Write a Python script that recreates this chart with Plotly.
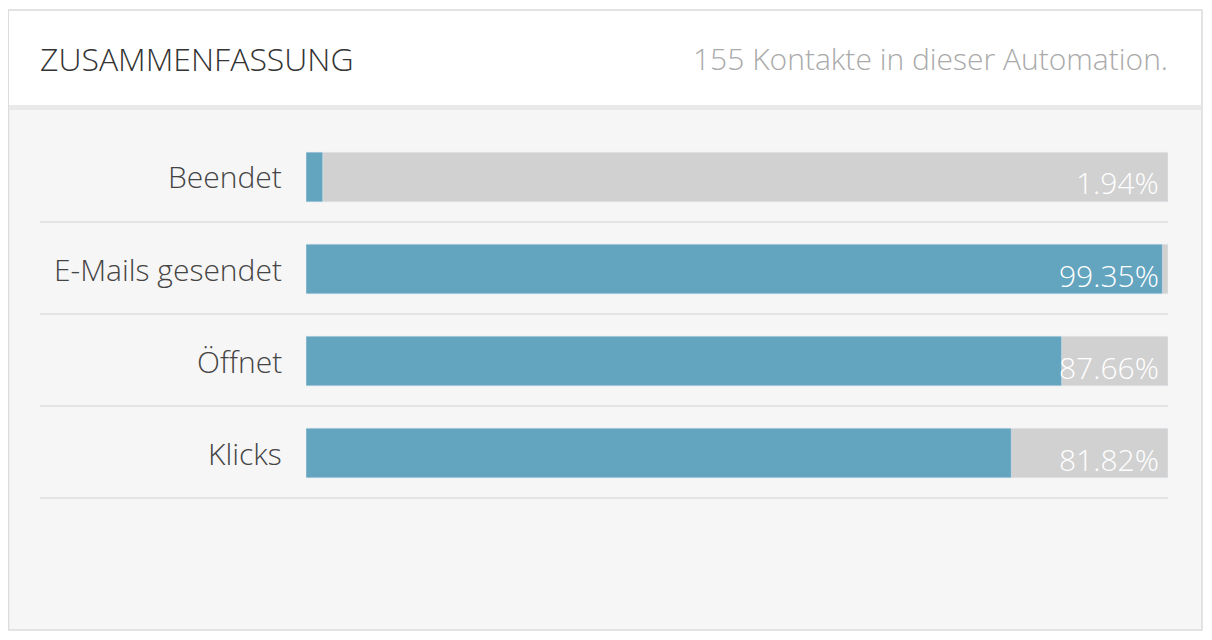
import plotly.graph_objects as go

categories = ["Beendet", "E-Mails gesendet", "Öffnet", "Klicks"]
values = [1.94, 99.35, 87.66, 81.82]
total = [100, 100, 100, 100]
title_left = "ZUSAMMENFASSUNG"
title_right = "155 Kontakte in dieser Automation."

W, H = 1212, 640
OFF = 8  # page body margin
def px(x): return (x - OFF) / W
def py(y): return 1 - (y - OFF) / H

fig = go.Figure()
fig.add_trace(go.Bar(y=categories, x=total, orientation="h", marker_color="#d1d1d1",
                     width=0.54, hoverinfo="skip", showlegend=False))
fig.add_trace(go.Bar(y=categories, x=values, orientation="h", marker_color="#63a4bf",
                     width=0.54, showlegend=False))

for c, v in zip(categories, values):
    fig.add_annotation(x=100, y=c, text=f"{v:.2f}%", xref="x", yref="y", showarrow=False,
                       xanchor="right", yanchor="middle", yshift=-6, xshift=-7,
                       font=dict(size=30, color="white", family="Open Sans", weight=300))
    fig.add_annotation(x=px(284), y=c, text=c, xref="paper", yref="y", showarrow=False,
                       xanchor="right", yanchor="middle",
                       font=dict(size=30, color="#444", family="Open Sans", weight=300))

shapes = [
    dict(type="rect", xref="paper", yref="paper", x0=px(8.5), x1=px(1202), y0=py(630), y1=py(10),
         fillcolor="#f6f6f6", line=dict(color="#dcdcdc", width=1.5), layer="below"),
    dict(type="rect", xref="paper", yref="paper", x0=px(9), x1=px(1201), y0=py(110), y1=py(104),
         fillcolor="#e9e9e9", line_width=0, layer="below"),
    dict(type="rect", xref="paper", yref="paper", x0=px(9), x1=px(1201), y0=py(105), y1=py(11),
         fillcolor="white", line_width=0, layer="below"),
]
for yy in [222, 314, 406, 498]:
    shapes.append(dict(type="line", xref="paper", yref="paper", x0=px(40), x1=px(1168),
                       y0=py(yy), y1=py(yy), line=dict(color="#dddddd", width=1.5)))

fig.add_annotation(x=px(38), y=py(58), xref="paper", yref="paper", text=title_left, showarrow=False,
                   xanchor="left", yanchor="middle",
                   font=dict(size=32, color="#333", family="Open Sans", weight=300))
fig.add_annotation(x=px(1170), y=py(58), xref="paper", yref="paper", text=title_right, showarrow=False,
                   xanchor="right", yanchor="middle",
                   font=dict(size=30, color="#aaa", family="Open Sans", weight=300))

fig.update_layout(
    width=W, height=H, margin=dict(l=0, r=0, t=0, b=0),
    paper_bgcolor="white", plot_bgcolor="rgba(0,0,0,0)",
    barmode="overlay", shapes=shapes,
    xaxis=dict(domain=[px(306), px(1168)], range=[0, 100], visible=False, fixedrange=True),
    yaxis=dict(domain=[py(499), py(131)], range=[3.5, -0.5], visible=False,
               categoryorder="array", categoryarray=categories, fixedrange=True),
)
fig.write_html("out.html")
